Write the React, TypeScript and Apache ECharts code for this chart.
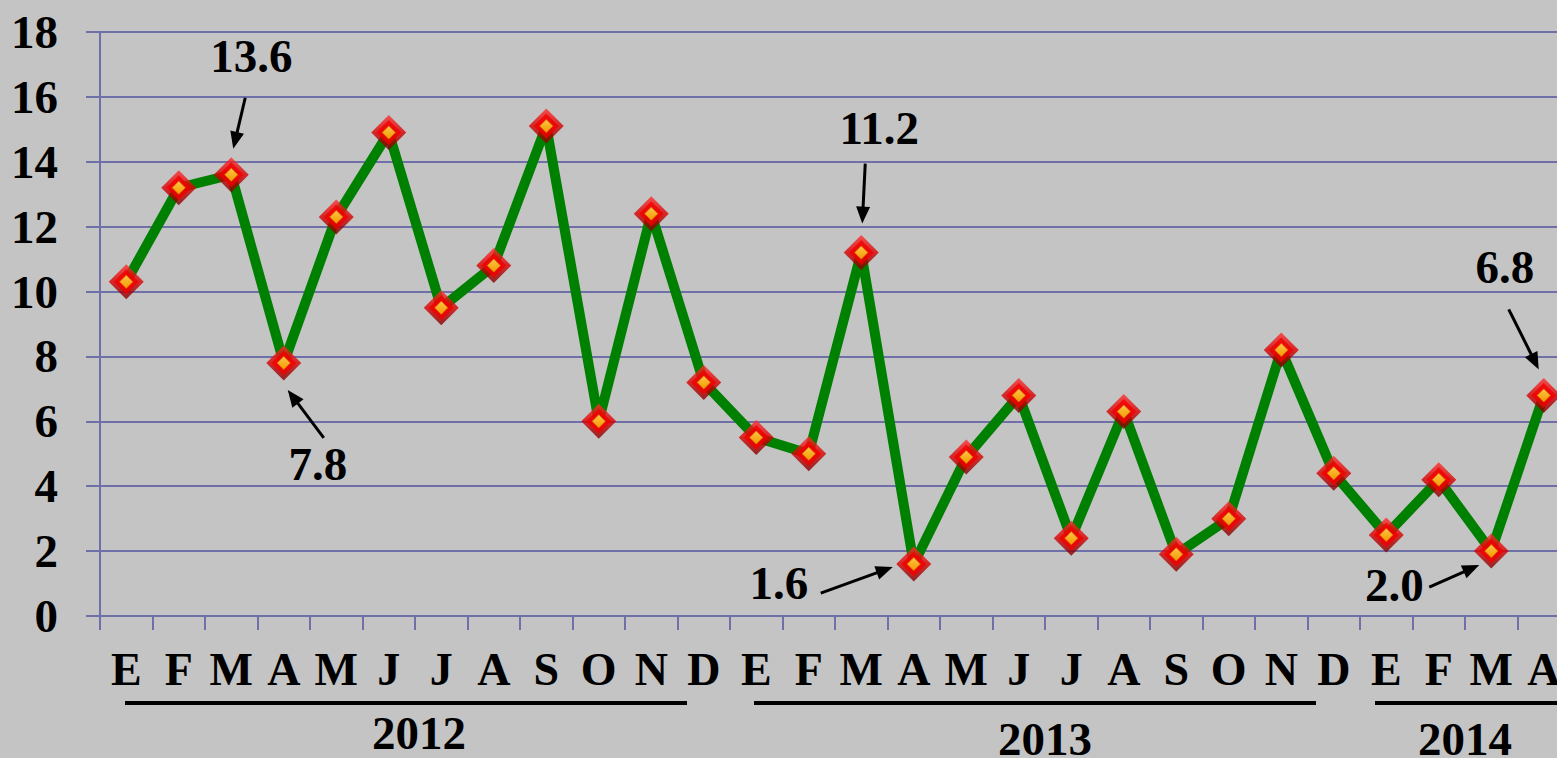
import React, { useEffect, useRef } from "react";
import * as echarts from "echarts";

const categories = [
  "E", "F", "M", "A", "M", "J", "J", "A", "S", "O", "N", "D",
  "E", "F", "M", "A", "M", "J", "J", "A", "S", "O", "N", "D",
  "E", "F", "M", "A",
];
const values = [
  10.3, 13.2, 13.6, 7.8, 12.3, 14.9, 9.5, 10.8, 15.1, 6.0, 12.4, 7.2,
  5.5, 5.0, 11.2, 1.6, 4.9, 6.8, 2.4, 6.3, 1.9, 3.0, 8.2, 4.4,
  2.5, 4.2, 2.0, 6.8,
];
const yTicks = [0, 2, 4, 6, 8, 10, 12, 14, 16, 18];
const years = ["2012", "2013", "2014"];
const annIndex = [2, 3, 14, 15, 26, 27];
const annText = ["13.6", "7.8", "11.2", "1.6", "2.0", "6.8"];

// layout offsets (pixels relative to the annotated point): label, arrow start, arrow tip
const annLayout = [
  { label: [20, -119], from: [14, -77], to: [2, -26] },
  { label: [34, 101], from: [40, 75], to: [4, 27] },
  { label: [18, -125], from: [4, -89], to: [1, -29] },
  { label: [-135, 19], from: [-93, 29], to: [-21, 3] },
  { label: [-97, 34], from: [-62, 36], to: [-12, 14] },
  { label: [-39, -128], from: [-35, -86], to: [-5, -26] },
];
const yearLayout = [
  { cx: 419, cy: 733, x1: 125, x2: 687 },
  { cx: 1045, cy: 739, x1: 754, x2: 1316 },
  { cx: 1465, cy: 739, x1: 1375, x2: 1580 },
];

const FONT = "'Liberation Serif', 'Times New Roman', serif";
const GRID = "#7070A8";

export default function App() {
  const ref = useRef<HTMLDivElement>(null);
  useEffect(() => {
    if (!ref.current) return;
    const chart = echarts.init(ref.current, null, { renderer: "svg" });
    const pts = values.map((v, i) => [i, v]);
    chart.setOption({
      animation: false,
      backgroundColor: "#C4C4C4",
      grid: { left: 100, top: 32, width: 1470, height: 584 },
      xAxis: {
        type: "category",
        data: categories,
        boundaryGap: true,
        axisLine: { lineStyle: { color: GRID, width: 2 } },
        axisTick: { show: true, interval: 0, length: 14, lineStyle: { color: GRID, width: 2 } },
        axisLabel: {
          interval: 0,
          margin: 30,
          color: "#000",
          fontFamily: FONT,
          fontWeight: "bold",
          fontSize: 46,
          lineHeight: 46,
        },
        splitLine: { show: false },
      },
      yAxis: {
        type: "value",
        min: yTicks[0],
        max: yTicks[yTicks.length - 1],
        interval: 2,
        axisLine: { show: true, lineStyle: { color: GRID, width: 2 } },
        axisTick: { show: true, length: 14, lineStyle: { color: GRID, width: 2 } },
        axisLabel: {
          margin: 42,
          color: "#000",
          fontFamily: FONT,
          fontWeight: "bold",
          fontSize: 47,
        },
        splitLine: { show: true, lineStyle: { color: GRID, width: 2 } },
      },
      series: [
        {
          type: "line",
          data: pts,
          showSymbol: false,
          symbol: "none",
          lineStyle: { color: "#008000", width: 10 },
          z: 2,
        },
        {
          type: "scatter",
          data: pts,
          symbol: "diamond",
          symbolSize: 35,
          itemStyle: {
            color: new echarts.graphic.LinearGradient(0, 0, 0, 1, [
              { offset: 0, color: "#FF3030" },
              { offset: 0.5, color: "#D80000" },
              { offset: 1, color: "#800000" },
            ]),
          },
          z: 3,
        },
        {
          type: "scatter",
          data: pts,
          symbol: "diamond",
          symbolSize: 25,
          itemStyle: { color: "#F20000" },
          z: 4,
        },
        {
          type: "scatter",
          data: pts,
          symbol: "diamond",
          symbolSize: 13,
          itemStyle: {
            color: new echarts.graphic.LinearGradient(0, 0, 0, 1, [
              { offset: 0, color: "#FFF45A" },
              { offset: 1, color: "#F8C000" },
            ]),
            borderColor: "#E08000",
            borderWidth: 1,
          },
          z: 5,
        },
      ],
    });

    const graphics: any[] = [];
    annIndex.forEach((idx, k) => {
      const p = chart.convertToPixel({ seriesIndex: 0 }, [idx, values[idx]]) as number[];
      const L = annLayout[k];
      graphics.push({
        type: "text",
        x: p[0] + L.label[0],
        y: p[1] + L.label[1],
        style: {
          text: annText[k],
          font: `bold 47px ${FONT}`,
          fill: "#000",
          align: "center",
          verticalAlign: "middle",
        },
        z: 20,
      });
      const x1 = p[0] + L.from[0], y1 = p[1] + L.from[1];
      const x2 = p[0] + L.to[0], y2 = p[1] + L.to[1];
      const dx = x2 - x1, dy = y2 - y1;
      const len = Math.sqrt(dx * dx + dy * dy);
      const ux = dx / len, uy = dy / len;
      const hl = 17, hw = 7;
      const bx = x2 - ux * hl, by = y2 - uy * hl;
      graphics.push({
        type: "line",
        shape: { x1, y1, x2: bx + ux * 2, y2: by + uy * 2 },
        style: { stroke: "#000", lineWidth: 3 },
        z: 20,
      });
      graphics.push({
        type: "polygon",
        shape: {
          points: [
            [x2, y2],
            [bx - uy * hw, by + ux * hw],
            [bx + uy * hw, by - ux * hw],
          ],
        },
        style: { fill: "#000" },
        z: 20,
      });
    });
    years.forEach((yr, k) => {
      const Y = yearLayout[k];
      graphics.push({
        type: "line",
        shape: { x1: Y.x1, y1: 703, x2: Y.x2, y2: 703 },
        style: { stroke: "#000", lineWidth: 4 },
      });
      graphics.push({
        type: "text",
        x: Y.cx,
        y: Y.cy,
        style: {
          text: yr,
          font: `bold 47px ${FONT}`,
          fill: "#000",
          align: "center",
          verticalAlign: "middle",
        },
      });
    });
    chart.setOption({ graphic: graphics });
    return () => chart.dispose();
  }, []);
  return (
    <div
      style={{
        position: "absolute",
        left: 0,
        top: 0,
        width: 1557,
        height: 758,
        overflow: "hidden",
      }}
    >
      <div ref={ref} style={{ width: 1590, height: 758 }} />
    </div>
  );
}
